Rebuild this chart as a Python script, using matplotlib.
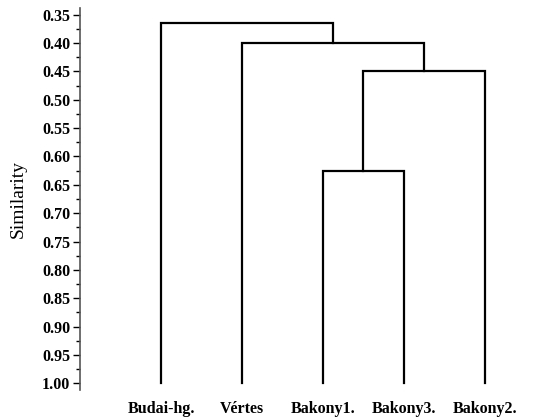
import numpy as np
import matplotlib.pyplot as plt
from matplotlib.ticker import MultipleLocator, FormatStrFormatter

# leaves in dendrogram order
leaves = ['Budai-hg.', 'Vértes', 'Bakony1.', 'Bakony3.', 'Bakony2.']
# merges: (left node, right node, similarity); nodes 0..4 are leaves, 5.. are clusters
merges = [(2, 3, 0.625),
          (5, 4, 0.45),
          (1, 6, 0.40),
          (0, 7, 0.365)]

plt.rcParams['font.family'] = ['Liberation Serif', 'DejaVu Serif']

fig = plt.figure(figsize=(5.35, 4.19), dpi=100)
ax = fig.add_axes([80 / 535, 1 - 390 / 419, 450 / 535, 382 / 419])

pos = {i: (float(i), 1.0) for i in range(len(leaves))}
for k, (a, b, h) in enumerate(merges):
    xa, ya = pos[a]
    xb, yb = pos[b]
    ax.plot([xa, xa, xb, xb], [ya, h, h, yb], color='black', lw=1.6,
            solid_joinstyle='miter')
    pos[len(leaves) + k] = ((xa + xb) / 2, h)

ax.set_xlim(-1.0, 4.556)
ax.set_ylim(1.012, 0.338)
ax.yaxis.set_major_locator(MultipleLocator(0.05))
ax.yaxis.set_minor_locator(MultipleLocator(0.025))
ax.yaxis.set_major_formatter(FormatStrFormatter('%.2f'))
ax.tick_params(axis='y', which='major', length=5, width=1, labelsize=11.5, pad=2)
ax.tick_params(axis='y', which='minor', length=3, width=1)
for lab in ax.get_yticklabels():
    lab.set_fontweight('bold')

ax.set_xticks(range(len(leaves)))
ax.set_xticklabels(leaves, fontweight='bold', fontsize=11.5)
ax.tick_params(axis='x', length=0, pad=8)

for s in ['top', 'right', 'bottom']:
    ax.spines[s].set_visible(False)
ax.spines['left'].set_linewidth(1.2)
ax.spines['left'].set_color('#555555')

ax.set_ylabel('Similarity', fontsize=14)
ax.yaxis.set_label_coords(-0.118, 0.50)

fig.savefig('out.png', dpi=100)
